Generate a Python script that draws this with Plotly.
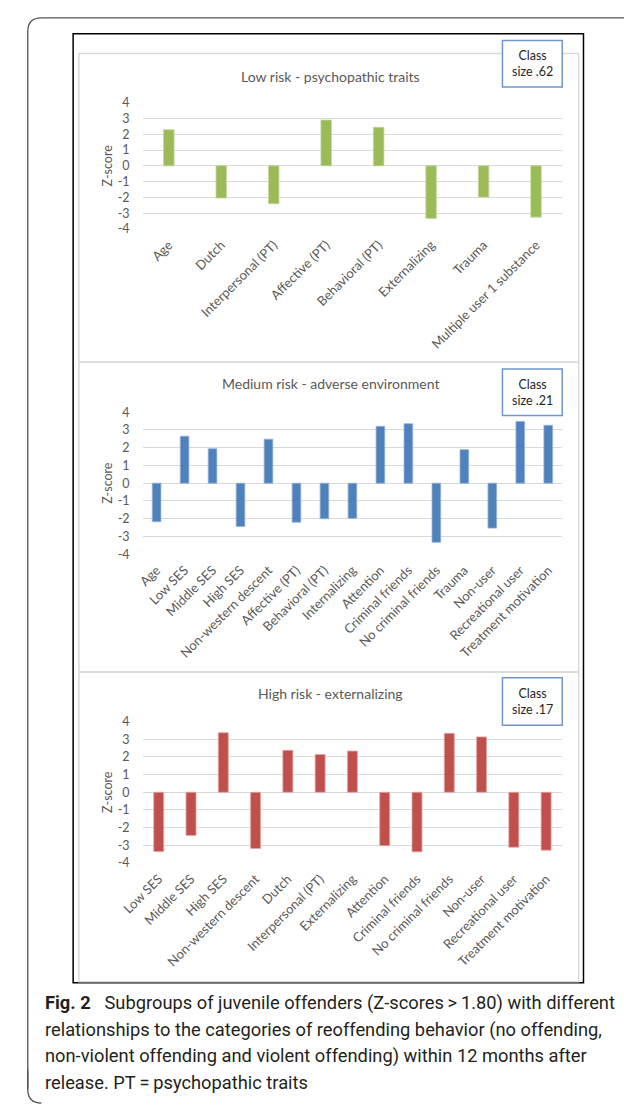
import plotly.graph_objects as go

W, H = 624, 1109

# ---- data ----
cats1 = ["Age", "Dutch", "Interpersonal (PT)", "Affective (PT)", "Behavioral (PT)",
         "Externalizing", "Trauma", "Multiple user 1 substance"]
vals1 = [2.29, -2.04, -2.4, 2.9, 2.44, -3.33, -1.98, -3.25]

cats2 = ["Age", "Low SES", "Middle SES", "High SES", "Non-western descent", "Affective (PT)",
         "Behavioral (PT)", "Internalizing", "Attention", "Criminal friends",
         "No criminal friends", "Trauma", "Non-user", "Recreational user", "Treatment motivation"]
vals2 = [-2.17, 2.65, 1.94, -2.44, 2.48, -2.2, -2.0, -1.98, 3.2, 3.35, -3.33, 1.89, -2.53, 3.48, 3.26]

cats3 = ["Low SES", "Middle SES", "High SES", "Non-western descent", "Dutch", "Interpersonal (PT)",
         "Externalizing", "Attention", "Criminal friends", "No criminal friends", "Non-user",
         "Recreational user", "Treatment motivation"]
vals3 = [-3.35, -2.44, 3.37, -3.18, 2.37, 2.14, 2.33, -3.02, -3.37, 3.33, 3.13, -3.11, -3.28]

titles = ["Low risk - psychopathic traits", "Medium risk - adverse environment",
          "High risk - externalizing"]
class_sizes = [".62", ".21", ".17"]
yticks = [-4, -3, -2, -1, 0, 1, 2, 3, 4]
ytick_labels = ["-4", "-3", "-2", "-1", "0", "1", "2", "3", "4"]

caption_lines = [
    "<b>Fig. 2</b>\u2002 Subgroups of juvenile offenders (Z-scores\u2009&gt;\u20091.80) with different",
    "relationships to the categories of reoffending behavior (no offending,",
    "non-violent offending and violent offending) within 12 months after",
    "release. PT\u2009=\u2009psychopathic traits",
]

# ---- helpers ----
def px(x):
    return x / W

def py(y):
    return 1 - y / H

FONT = "Lato"
GREY = "#595959"

panels = [
    dict(cats=cats1, vals=vals1, color="#9BBB59", edge="#C3D69B", width=0.2,
         top=96.0, bot=224.0, ptop=46, pbot=359, box=(33, 80), title_y=69),
    dict(cats=cats2, vals=vals2, color="#4F81BD", edge="#95B3D7", width=0.31,
         top=409.7, bot=553.7, ptop=359, pbot=673, box=(366, 413), title_y=381),
    dict(cats=cats3, vals=vals3, color="#C0504D", edge="#E6A6A4", width=0.31,
         top=723.3, bot=866.7, ptop=673, pbot=987, box=(679, 727), title_y=695),
]

fig = go.Figure()
layout = dict(
    width=W, height=H, margin=dict(l=0, r=0, t=0, b=0),
    paper_bgcolor="white", plot_bgcolor="white", showlegend=False,
    font=dict(family=FONT, color=GREY, size=12),
)
shapes = []
annotations = []

# outer rounded frame
r = 14
x0, y0, x1, y1 = 6, 10, 660, 1110
path = (f"M {px(x0)} {py(y1 - r)} L {px(x0)} {py(y0 + r)} "
        f"Q {px(x0)} {py(y0)} {px(x0 + r)} {py(y0)} L {px(x1)} {py(y0)}")
shapes.append(dict(type="path", xref="paper", yref="paper", path=path,
                   line=dict(color="#555555", width=1.3)))
path2 = (f"M {px(x0)} {py(y1 - r - 20)} L {px(x0)} {py(y1 - r)} "
         f"Q {px(x0)} {py(y1)} {px(x0 + r)} {py(y1)}")
shapes.append(dict(type="path", xref="paper", yref="paper", path=path2,
                   line=dict(color="#555555", width=1.3)))

# black inner box
shapes.append(dict(type="rect", xref="paper", yref="paper",
                   x0=px(53), x1=px(582), y0=py(988), y1=py(26),
                   line=dict(color="black", width=1.5), layer="below"))

for i, p in enumerate(panels, start=1):
    xa = "x" if i == 1 else f"x{i}"
    ya = "y" if i == 1 else f"y{i}"
    fig.add_trace(go.Bar(
        x=p["cats"], y=p["vals"], xaxis=xa, yaxis=ya, width=p["width"],
        marker=dict(color=p["color"], line=dict(color=p["edge"], width=0.8)),
    ))
    layout[f"xaxis{'' if i == 1 else i}"] = dict(
        domain=[px(125), px(560)], anchor=ya, type="category",
        tickangle=-45, showgrid=False, showline=False, zeroline=False, ticks="",
        tickfont=dict(family=FONT, size=13, color=GREY), ticklabelstandoff=5,
        fixedrange=True,
    )
    layout[f"yaxis{'' if i == 1 else i}"] = dict(
        domain=[py(p["bot"]), py(p["top"])], anchor=xa, range=[-4, 4],
        tickvals=yticks, ticktext=ytick_labels,
        showgrid=True, gridcolor="#D9D9D9", gridwidth=1,
        zeroline=True, zerolinecolor="#D9D9D9", zerolinewidth=1,
        showline=False, ticks="", ticklabelstandoff=12,
        tickfont=dict(family=FONT, size=12.5, color=GREY),
        title=dict(text="Z-score", font=dict(family=FONT, size=12.5, color=GREY), standoff=2),
        fixedrange=True,
    )
    # panel frame
    shapes.append(dict(type="rect", xref="paper", yref="paper",
                       x0=px(59), x1=px(577), y0=py(p["pbot"]), y1=py(p["ptop"]),
                       line=dict(color="#D9D9D9", width=1.5), layer="below"))
    # class size box
    b0, b1 = p["box"]
    shapes.append(dict(type="rect", xref="paper", yref="paper",
                       x0=px(498), x1=px(560), y0=py(b1), y1=py(b0),
                       line=dict(color="#6F97CC", width=1.5), fillcolor="white"))
    annotations.append(dict(xref="paper", yref="paper", x=px(529), y=py((b0 + b1) / 2),
                            xanchor="center", yanchor="middle",
                            text=f"Class<br>size {class_sizes[i-1]}", showarrow=False,
                            align="center", font=dict(family=FONT, size=12.5, color="#262626")))
    # panel title
    annotations.append(dict(xref="paper", yref="paper", x=px(320), y=py(p["title_y"]),
                            xanchor="center", yanchor="middle",
                            text=titles[i-1], showarrow=False,
                            font=dict(family=FONT, size=14, color=GREY)))

# caption
cap_y = [1009, 1035.7, 1062.3, 1089]
for t, yy in zip(caption_lines, cap_y):
    annotations.append(dict(xref="paper", yref="paper", x=px(22), y=py(yy),
                            xanchor="left", yanchor="middle", text=t, showarrow=False,
                            font=dict(family="Roboto", size=18.3, color="#231F20")))

layout["shapes"] = shapes
layout["annotations"] = annotations
fig.update_layout(**layout)
fig.write_html("out.html")
